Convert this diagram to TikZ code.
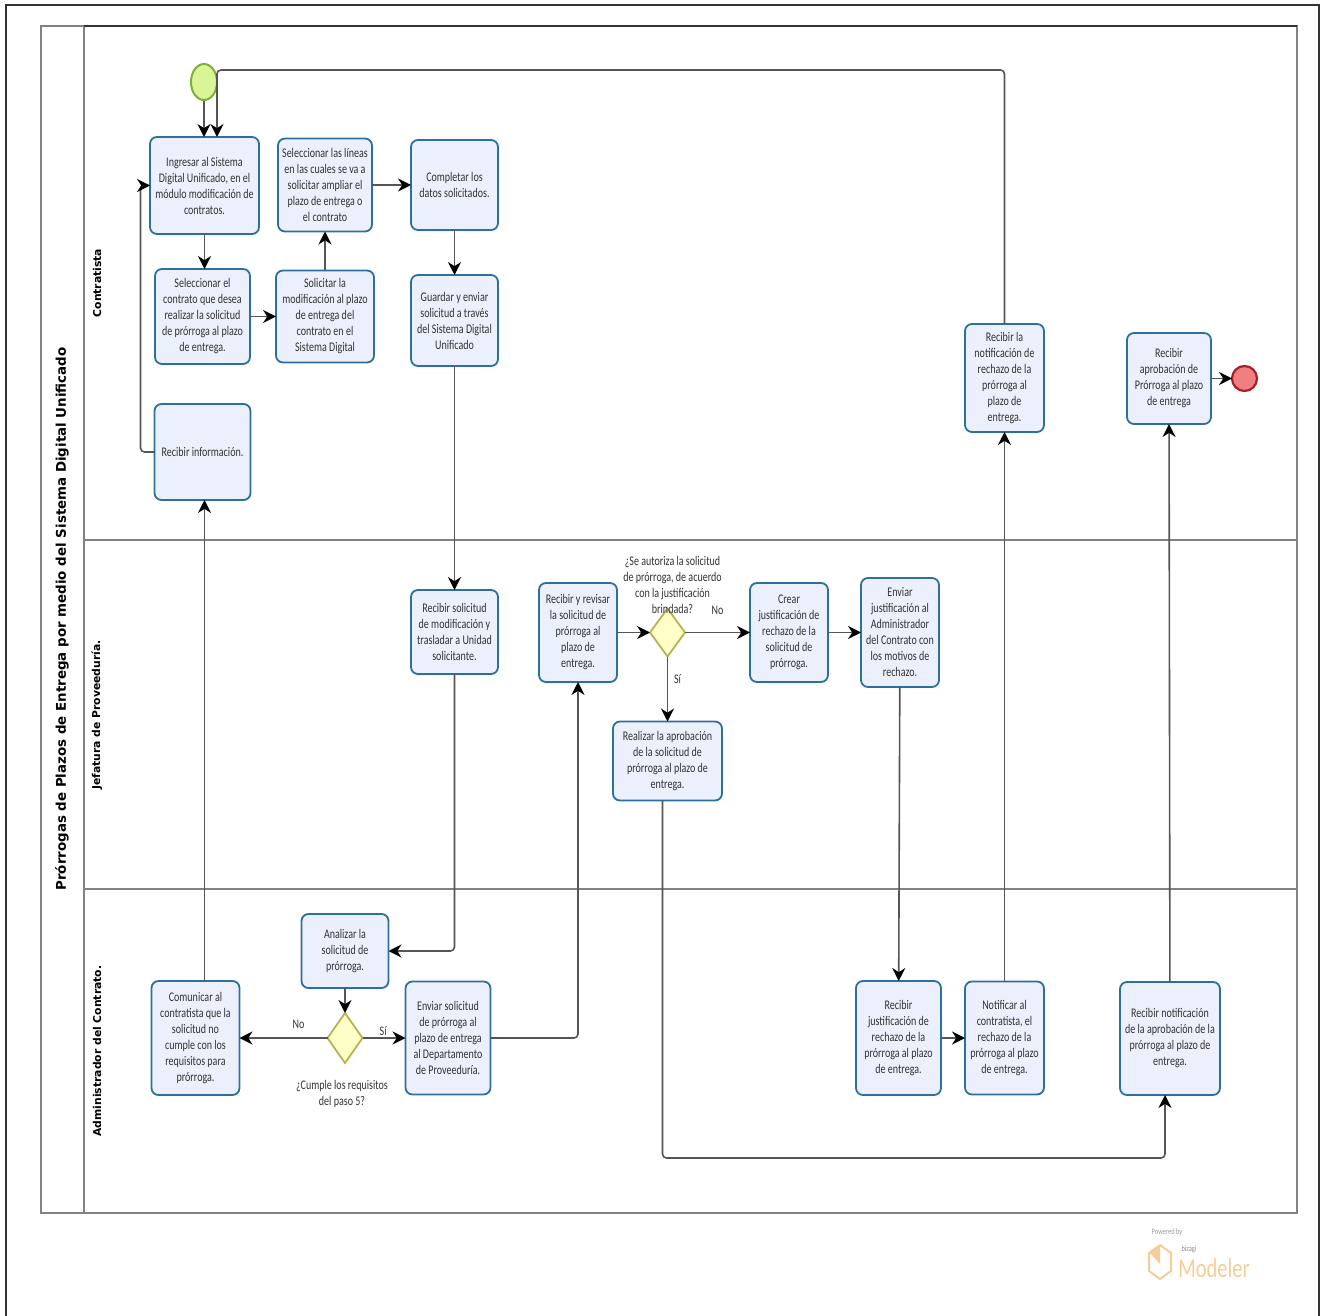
\documentclass[tikz,border=0pt]{standalone}
\usepackage{fontspec}
\setmainfont[FakeStretch=0.76]{Carlito}
\newfontfamily\lanefont{DejaVu Sans}
\usetikzlibrary{arrows.meta,positioning,shapes.geometric}
\definecolor{taskColor}{RGB}{235,240,252}
\definecolor{taskEdge}{RGB}{44,112,158}
\definecolor{startColor}{RGB}{217,245,150}
\definecolor{startEdge}{RGB}{125,175,60}
\definecolor{endColor}{RGB}{240,128,128}
\definecolor{endEdge}{RGB}{170,30,40}
\definecolor{gatewayColor}{RGB}{255,255,200}
\definecolor{gatewayEdge}{RGB}{180,180,80}
\definecolor{poolColor}{RGB}{130,130,130}
\definecolor{flowColor}{RGB}{85,85,85}
\definecolor{logoColor}{RGB}{245,205,150}
\tikzset{label text/.style={font=\fontsize{6.6}{8}\selectfont, text=black!80, align=center, inner sep=0pt}}
\tikzset{task/.style={label text, draw=taskEdge, fill=taskColor, line width=.9pt, outer sep=0pt, rounded corners=3.5pt}}
\tikzset{gateway/.style={diamond, draw=gatewayEdge, fill=gatewayColor, line width=.9pt, inner sep=0pt, outer sep=0pt, minimum width=17.5pt, minimum height=24pt}}
\tikzset{lane title/.style={font=\lanefont\bfseries\fontsize{5.4}{6}\selectfont, rotate=90, inner sep=0pt}}
\tikzstyle{arrow} = [draw=flowColor, line width=.8pt, rounded corners=2pt, -{Stealth[black, length=6.5pt, width=6.5pt]}]

\begin{document}
\begin{tikzpicture}[x=.5pt, y=-.5pt]
	\useasboundingbox (0,0) rectangle (1324,1316);

	% Frame and pool
	\draw[line width=.9pt, black!80] (6,1316) -- (6,5) -- (1319,5) -- (1319,1316);
	\draw[poolColor, line width=.7pt] (41,26) rectangle (1297,1213);
	\draw[poolColor, line width=.7pt] (84,26) -- (84,1213);
	\draw[poolColor, line width=.7pt] (84,540) -- (1297,540);
	\draw[poolColor, line width=.7pt] (84,889) -- (1297,889);
	\draw[black!80, line width=.7pt] (84,26) -- (1297,26);

	\node (pooltitle) [lane title, font=\lanefont\bfseries\fontsize{6.7}{7}\selectfont] at (62,619) {Prórrogas de Plazos de Entrega por medio del Sistema Digital Unificado};
	\node (lanecontratista) [lane title] at (97,283) {Contratista};
	\node (lanejefatura) [lane title] at (97,715) {Jefatura de Proveeduría.};
	\node (laneadmin) [lane title] at (97,1051) {Administrador del Contrato.};

	% Nodes, Contratista
	\node (seleccionar) [task, minimum width=47.5pt, minimum height=47.5pt] at (202.5,316.5) {Seleccionar el\\ contrato que desea\\ realizar la solicitud\\ de prórroga al plazo\\ de entrega.};
	\node (ingresar) [task, minimum width=54.5pt, minimum height=48.5pt, above=17.5pt of seleccionar, xshift=1pt] {Ingresar al Sistema\\ Digital Unificado, en el\\ módulo modificación de\\ contratos.};
	\node (inicio) [ellipse, draw=startEdge, fill=startColor, line width=1pt, minimum width=13pt, minimum height=18pt, inner sep=0pt] at (204,82) {};
	\node (recibirinfo) [task, minimum width=48pt, minimum height=48pt, below=20pt of seleccionar] {Recibir información.};
	\node (solicitar) [task, minimum width=49pt, minimum height=46pt, right=13pt of seleccionar] {Solicitar la\\ modificación al plazo\\ de entrega del\\ contrato en el\\ Sistema Digital};
	\node (lineas) [task, minimum width=47pt, minimum height=46.5pt, above=19.5pt of solicitar] {Seleccionar las líneas\\ en las cuales se va a\\ solicitar ampliar el\\ plazo de entrega o\\ el contrato};
	\node (completar) [task, minimum width=43.5pt, minimum height=45pt, right=19.5pt of lineas] {Completar los\\ datos solicitados.};
	\node (guardar) [task, minimum width=43.5pt, minimum height=45.5pt, below=22.5pt of completar] {Guardar y enviar\\ solicitud a través\\ del Sistema Digital\\ Unificado};
	\node (rechazo) [task, minimum width=39.5pt, minimum height=54pt] at (1004.5,378) {Recibir la\\ notificación de\\ rechazo de la\\ prórroga al\\ plazo de\\ entrega.};
	\node (aprobacion) [task, minimum width=42pt, minimum height=45.5pt] at (1169,378.5) {Recibir\\ aprobación de\\ Prórroga al plazo\\ de entrega};
	\node (fin) [circle, draw=endEdge, fill=endColor, line width=1.1pt, minimum size=12.5pt, inner sep=0pt, outer sep=0pt, right=10.5pt of aprobacion] {};

	% Nodes, Jefatura
	\node (recibirsolicitud) [task, minimum width=43.5pt, minimum height=42pt] at (454.5,632) {Recibir solicitud\\ de modificación y\\ trasladar a Unidad\\ solicitante.};
	\node (revisar) [task, minimum width=39pt, minimum height=49.5pt] at (578,632.5) {Recibir y revisar\\ la solicitud de\\ prórroga al\\ plazo de\\ entrega.};
	\node (autoriza) [gateway, right=16.5pt of revisar] {};
	\node (crear) [task, minimum width=39pt, minimum height=49.5pt, right=32.5pt of autoriza] {Crear\\ justificación de\\ rechazo de la\\ solicitud de\\ prórroga.};
	\node (enviarjust) [task, minimum width=39pt, minimum height=54.5pt, right=16.5pt of crear] {Enviar\\ justificación al\\ Administrador\\ del Contrato con\\ los motivos de\\ rechazo.};
	\node (realizar) [task, minimum width=54.5pt, minimum height=39.5pt, below=32.5pt of autoriza] {Realizar la aprobación\\ de la solicitud de\\ prórroga al plazo de\\ entrega.};

	% Nodes, Administrador
	\node (cumple) [gateway, minimum height=25pt] at (345,1038) {};
	\node (comunicar) [task, minimum width=44pt, minimum height=57pt, left=44pt of cumple] {Comunicar al\\ contratista que la\\ solicitud no\\ cumple con los\\ requisitos para\\ prórroga.};
	\node (enviarsol) [task, minimum width=42.5pt, minimum height=56.5pt, right=21.5pt of cumple] {Enviar solicitud\\ de prórroga al\\ plazo de entrega\\ al Departamento\\ de Proveeduría.};
	\node (analizar) [task, minimum width=43.5pt, minimum height=37pt, above=12.5pt of cumple] {Analizar la\\ solicitud de\\ prórroga.};
	\node (justificacion) [task, minimum width=42.5pt, minimum height=57pt] at (898.5,1038) {Recibir\\ justificación de\\ rechazo de la\\ prórroga al plazo\\ de entrega.};
	\node (notificar) [task, minimum width=39.5pt, minimum height=56.5pt, right=12pt of justificacion] {Notificar al\\ contratista, el\\ rechazo de la\\ prórroga al plazo\\ de entrega.};
	\node (notificacion) [task, minimum width=50pt, minimum height=56.5pt] at (1170,1038.5) {Recibir notificación\\ de la aprobación de la\\ prórroga al plazo de\\ entrega.};

	\coordinate (retorno) at (217,70);
	\coordinate (aprobado) at (1165,1158);

	% Connectors
	\draw [arrow] (inicio) -- (inicio |- ingresar.north);
	\draw [arrow] (ingresar.south) -- (ingresar.south |- seleccionar.north);
	\draw [arrow] (seleccionar) -- (solicitar);
	\draw [arrow] (solicitar) -- (lineas);
	\draw [arrow] (lineas) -- (completar);
	\draw [arrow] (completar) -- (guardar);
	\draw [arrow] (guardar) -- (recibirsolicitud);
	\draw [arrow] (recibirsolicitud.south) |- (analizar.east);
	\draw [arrow] (analizar) -- (cumple);
	\draw [arrow] (cumple) -- node[label text, pos=.33, yshift=7pt]{No} (comunicar);
	\draw [arrow] (cumple) -- node[label text, pos=.48, yshift=3.5pt]{Sí} (enviarsol);
	\draw [arrow] (enviarsol.east) -| (revisar.south);
	\draw [arrow] (revisar) -- (autoriza);
	\draw [arrow] (autoriza) -- node[label text, pos=.5, yshift=11pt]{No} (crear);
	\draw [arrow] (crear) -- (enviarjust);
	\draw [arrow] (autoriza) -- node[label text, pos=.34, xshift=5pt]{Sí} (realizar);
	\draw [arrow] (enviarjust) -- (justificacion);
	\draw [arrow] (justificacion) -- (notificar);
	\draw [arrow] (notificar) -- (rechazo);
	\draw [arrow] (rechazo.north) |- (retorno) -- (retorno |- ingresar.north);
	\draw [arrow] ([xshift=-2.5pt]realizar.south) |- (aprobado) -- (aprobado |- notificacion.south);
	\draw [arrow] (notificacion) -- (aprobacion);
	\draw [arrow] (aprobacion) -- (fin);
	\draw [arrow] ([xshift=4.5pt]comunicar.north) -- ([xshift=4.5pt]comunicar.north |- recibirinfo.south);
	\draw [arrow] (recibirinfo.west) -- ++(-14,0) |- (ingresar.west);

	% Gateway questions
	\node (preguntaautoriza) [label text, above=-2.5pt of autoriza, xshift=2.5pt] {¿Se autoriza la solicitud\\ de prórroga, de acuerdo\\ con la justificación\\ brindada?};
	\node (preguntacumple) [label text, below=8.5pt of cumple, xshift=-1.5pt] {¿Cumple los requisitos\\ del paso 5?};

	% Logo
	\draw[logoColor, line width=1pt, line join=round] (1160,1245) -- (1171,1253) -- (1171,1271) -- (1160,1279) -- (1149,1271) -- (1149,1253) -- cycle;
	\fill[logoColor] (1160,1245) -- (1150,1253) -- (1160,1264) -- cycle;
	\node (poweredby) [font=\fontsize{4.2}{5}\selectfont, text=black!40, inner sep=0pt] at (1167,1232) {Powered by};
	\node (bizagi) [font=\fontsize{4.2}{5}\selectfont, text=black!45, inner sep=0pt] at (1189,1249) {bizagi};
	\node (modeler) [font=\fontsize{13.5}{14}\selectfont, text=logoColor, inner sep=0pt] at (1214,1268) {Modeler};
\end{tikzpicture}
\end{document}
